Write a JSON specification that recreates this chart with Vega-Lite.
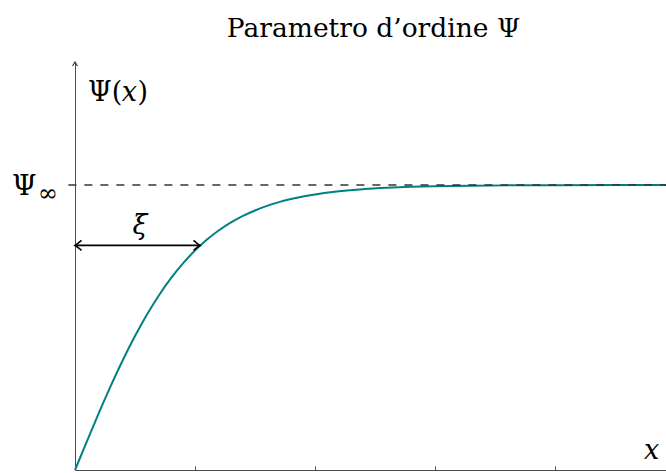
{
  "$schema": "https://vega.github.io/schema/vega-lite/v6.json",
  "width": 591,
  "height": 408,
  "autosize": "none",
  "padding": {"left": 75, "top": 62, "right": 0, "bottom": 3},
  "background": "white",
  "config": {"view": {"stroke": null}},
  "datasets": {
    "curve": [
      {"x": 0, "psi": 0},
      {"x": 0.1, "psi": 0.1017},
      {"x": 0.2, "psi": 0.2013},
      {"x": 0.3, "psi": 0.2969},
      {"x": 0.4, "psi": 0.3869},
      {"x": 0.5, "psi": 0.4701},
      {"x": 0.6, "psi": 0.5458},
      {"x": 0.7, "psi": 0.6134},
      {"x": 0.8, "psi": 0.6732},
      {"x": 0.9, "psi": 0.7252},
      {"x": 1.0, "psi": 0.7702},
      {"x": 1.1, "psi": 0.8086},
      {"x": 1.2, "psi": 0.8411},
      {"x": 1.3, "psi": 0.8686},
      {"x": 1.4, "psi": 0.8915},
      {"x": 1.5, "psi": 0.9107},
      {"x": 1.6, "psi": 0.9266},
      {"x": 1.7, "psi": 0.9398},
      {"x": 1.8, "psi": 0.9506},
      {"x": 1.9, "psi": 0.9596},
      {"x": 2.0, "psi": 0.9669},
      {"x": 2.2, "psi": 0.9779},
      {"x": 2.4, "psi": 0.9853},
      {"x": 2.6, "psi": 0.9902},
      {"x": 2.8, "psi": 0.9935},
      {"x": 3.0, "psi": 0.9957},
      {"x": 3.3, "psi": 0.9976},
      {"x": 3.6, "psi": 0.9987},
      {"x": 4.0, "psi": 0.9994},
      {"x": 4.5, "psi": 0.9998},
      {"x": 4.925, "psi": 0.9999}
    ],
    "asymptote": [{"from": -0.055, "to": 4.925, "level": 1}],
    "axisTip": [{"x": 0, "y": 1.4316}],
    "xi": [{"from": 0, "to": 1.042, "level": 0.788}]
  },
  "layer": [
    {
      "data": {"name": "curve"},
      "mark": {"type": "line", "color": "#008080", "strokeWidth": 2, "interpolate": "monotone"},
      "encoding": {
        "x": {
          "field": "x", "type": "quantitative",
          "scale": {"domain": [0, 4.925], "nice": false, "zero": false},
          "axis": {
            "values": [1, 2, 3, 4], "labels": false, "title": null, "grid": false,
            "tickSize": -4, "domainColor": "#4d4d4d", "tickColor": "#4d4d4d",
            "domainWidth": 1, "tickWidth": 1
          }
        },
        "y": {
          "field": "psi", "type": "quantitative",
          "scale": {"domain": [0, 1.4316], "nice": false, "zero": false},
          "axis": {
            "ticks": false, "labels": false, "title": null, "grid": false,
            "domainColor": "#4d4d4d", "domainWidth": 1
          }
        }
      }
    },
    {
      "data": {"name": "asymptote"},
      "mark": {"type": "rule", "color": "#333333", "strokeWidth": 1.3, "strokeDash": [8, 8]},
      "encoding": {
        "x": {"field": "from", "type": "quantitative"},
        "x2": {"field": "to"},
        "y": {"field": "level", "type": "quantitative"}
      }
    },
    {
      "data": {"name": "axisTip"},
      "mark": {
        "type": "point", "shape": "M -1 1.6 Q -0.2 0.4 0 0 Q 0.2 0.4 1 1.6",
        "filled": false, "size": 25, "stroke": "#333333", "strokeWidth": 1.1, "opacity": 1
      },
      "encoding": {
        "x": {"field": "x", "type": "quantitative"},
        "y": {"field": "y", "type": "quantitative"}
      }
    },
    {
      "data": {"name": "xi"},
      "mark": {"type": "rule", "color": "black", "strokeWidth": 1.6},
      "encoding": {
        "x": {"field": "from", "type": "quantitative"},
        "x2": {"field": "to"},
        "y": {"field": "level", "type": "quantitative"}
      }
    },
    {
      "data": {"name": "xi"},
      "mark": {
        "type": "point", "shape": "M 1.3 -1 Q 0.4 -0.2 0 0 Q 0.4 0.2 1.3 1",
        "filled": false, "size": 100, "stroke": "black", "strokeWidth": 1.6, "opacity": 1
      },
      "encoding": {
        "x": {"field": "from", "type": "quantitative"},
        "y": {"field": "level", "type": "quantitative"}
      }
    },
    {
      "data": {"name": "xi"},
      "mark": {
        "type": "point", "shape": "M -1.3 -1 Q -0.4 -0.2 0 0 Q -0.4 0.2 -1.3 1",
        "filled": false, "size": 100, "stroke": "black", "strokeWidth": 1.6, "opacity": 1
      },
      "encoding": {
        "x": {"field": "to", "type": "quantitative"},
        "y": {"field": "level", "type": "quantitative"}
      }
    },
    {
      "data": {"values": [{"label": "Parametro d’ordine Ψ", "x": 2.4875, "y": 1.5193}]},
      "mark": {"type": "text", "font": "DejaVu Serif", "fontSize": 26.5, "align": "center", "baseline": "alphabetic", "color": "black"},
      "encoding": {
        "x": {"field": "x", "type": "quantitative"},
        "y": {"field": "y", "type": "quantitative"},
        "text": {"field": "label"}
      }
    },
    {
      "data": {"values": [{"label": "ξ", "x": 0.542, "y": 0.856}]},
      "mark": {"type": "text", "font": "DejaVu Serif", "fontSize": 27, "fontStyle": "italic", "align": "center", "baseline": "middle", "color": "black"},
      "encoding": {
        "x": {"field": "x", "type": "quantitative"},
        "y": {"field": "y", "type": "quantitative"},
        "text": {"field": "label"}
      }
    },
    {
      "data": {"values": [{"label": "Ψ", "x": -0.525, "y": 0.965}]},
      "mark": {"type": "text", "font": "DejaVu Serif", "fontSize": 28, "align": "left", "baseline": "alphabetic", "color": "black"},
      "encoding": {
        "x": {"field": "x", "type": "quantitative"},
        "y": {"field": "y", "type": "quantitative"},
        "text": {"field": "label"}
      }
    },
    {
      "data": {"values": [{"label": "∞", "x": -0.31, "y": 0.945}]},
      "mark": {"type": "text", "font": "DejaVu Serif", "fontSize": 24, "align": "left", "baseline": "alphabetic", "color": "black"},
      "encoding": {
        "x": {"field": "x", "type": "quantitative"},
        "y": {"field": "y", "type": "quantitative"},
        "text": {"field": "label"}
      }
    },
    {
      "data": {"values": [{"label": "Ψ(", "x": 0.108, "y": 1.2947}, {"label": ")", "x": 0.52, "y": 1.2947}]},
      "mark": {"type": "text", "font": "DejaVu Serif", "fontSize": 27, "align": "left", "baseline": "alphabetic", "color": "black"},
      "encoding": {
        "x": {"field": "x", "type": "quantitative"},
        "y": {"field": "y", "type": "quantitative"},
        "text": {"field": "label"}
      }
    },
    {
      "data": {"values": [{"label": "x", "x": 0.39, "y": 1.2947}, {"label": "x", "x": 4.742, "y": 0.0386}]},
      "mark": {"type": "text", "font": "DejaVu Serif", "fontSize": 27, "fontStyle": "italic", "align": "left", "baseline": "alphabetic", "color": "black"},
      "encoding": {
        "x": {"field": "x", "type": "quantitative"},
        "y": {"field": "y", "type": "quantitative"},
        "text": {"field": "label"}
      }
    }
  ]
}
